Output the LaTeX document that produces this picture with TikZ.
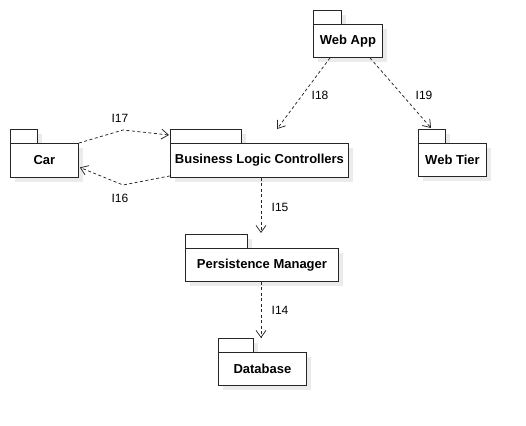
\documentclass[tikz,border=0pt]{standalone}
\usepackage{fontspec}
\setmainfont{Liberation Sans}
\usetikzlibrary{arrows.meta,calc}
\tikzset{
  pkgbody/.style={draw=black!85, fill=white, line width=0.9pt, inner sep=0pt, anchor=north west, font=\fontsize{13}{15}\selectfont\bfseries},
  pkgtab/.style={draw=black!85, fill=white, line width=0.9pt},
  pkgshadow/.style={fill=black!8},
  dep/.style={draw=black!85, line width=0.75pt, dash pattern=on 3pt off 2.5pt, -{Straight Barb[length=7pt,width=10pt]}},
  lbl/.style={font=\fontsize{12}{14}\selectfont, inner sep=0pt}
}
\newcommand{\pkgdraw}[7]{%
  \fill[pkgshadow] (#2+5,#3+5) rectangle ++(#4,#5);
  \fill[pkgshadow] (#2+5,#3-9) rectangle ++(#6,14);
  \draw[pkgtab] (#2,#3-14) rectangle ++(#6,14);
  \node[pkgbody, minimum width=#4pt, minimum height=#5pt] (#1) at (#2,#3) {#7};
}
\begin{document}
\begin{tikzpicture}[x=1pt,y=-1pt]
\useasboundingbox[fill=white] (0,0) rectangle (526,425);
\pkgdraw{webapp}{313}{24}{69}{33}{28}{Web App}
\pkgdraw{webtier}{418}{143}{68}{33}{27}{Web Tier}
\pkgdraw{car}{10}{143}{68}{34}{27}{Car}
\pkgdraw{blc}{170}{143}{178}{34}{71}{Business Logic Controllers}
\pkgdraw{pm}{185}{248}{153}{33}{62}{Persistence Manager}
\pkgdraw{db}{218}{352}{88}{33}{35}{Database}
% connectors
\draw[dep] ($(webapp.south west)+(17,0)$) -- ($(blc.north west)+(107,-14)$);
\draw[dep] ($(webapp.south west)+(57,0)$) -- ($(webtier.north west)+(13,-15)$);
\coordinate (c17) at (123,130);
\coordinate (c16) at (123,185);
\draw[dep] (car.north east) -- (c17) -- ($(blc.north west)+(-1,-8)$);
\draw[dep] ($(blc.south west)+(0,-2)$) -- (c16) -- ($(car.east)+(1,7)$);
\draw[dep] ($(blc.south west)+(91,0)$) -- ($(pm.north west)+(76,-15)$);
\draw[dep] ($(pm.south west)+(76,0)$) -- ($(db.north west)+(43,-14)$);
% labels
\node[lbl] (l18) at (320,95) {I18};
\node[lbl] (l19) at (424,95) {I19};
\node[lbl] (l17) at (120,118) {I17};
\node[lbl] (l16) at (120,198) {I16};
\node[lbl] (l15) at (280,207) {I15};
\node[lbl] (l14) at (280,310) {I14};
\end{tikzpicture}
\end{document}
